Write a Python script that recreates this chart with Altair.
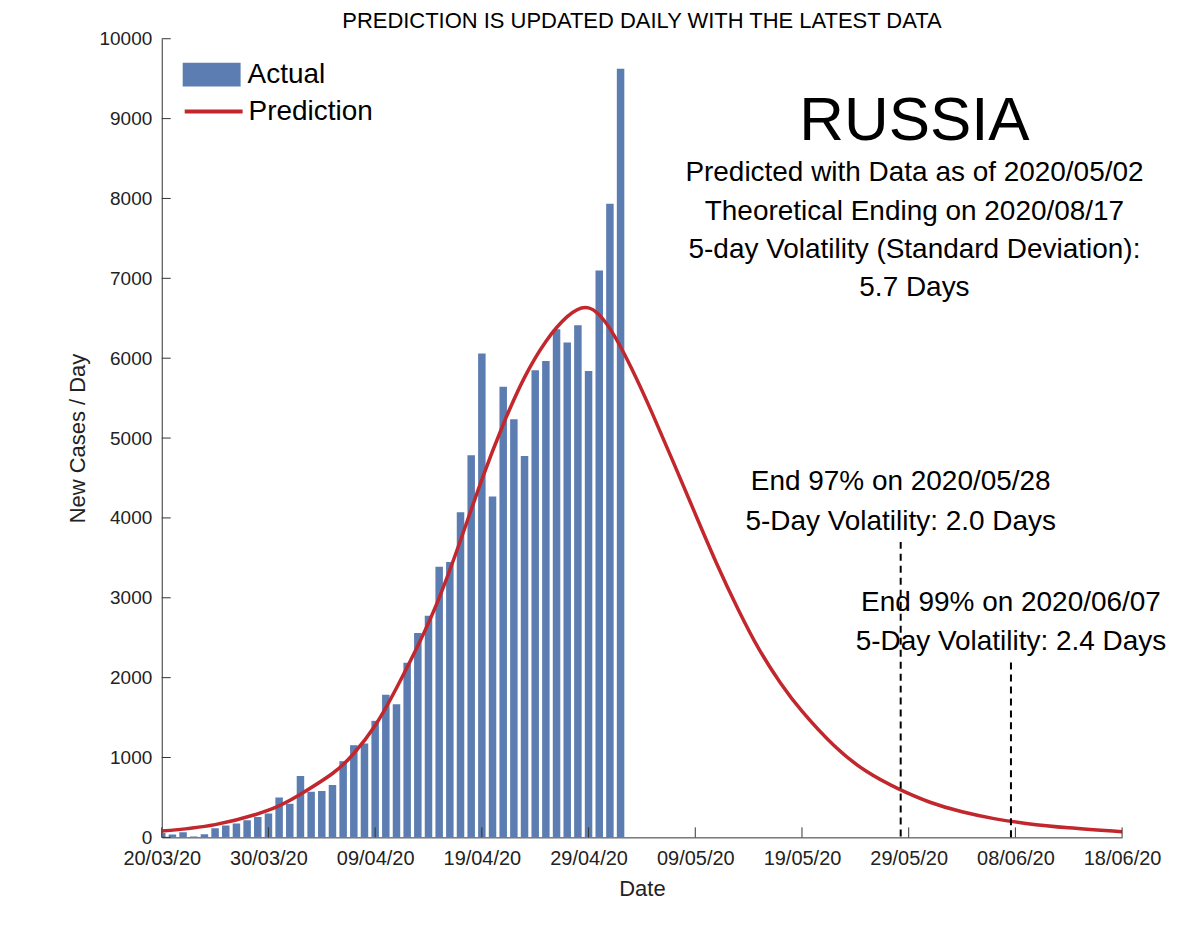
import altair as alt
import pandas as pd

FONT = "Liberation Sans"

# ---------------- data ----------------
start = pd.Timestamp("2020-03-20")
actual_cases = [55, 35, 65, 10, 40, 115, 150, 175, 215, 255, 300, 500,
                420, 770, 570, 580, 655, 954, 1154, 1175, 1459, 1786,
                1667, 2186, 2558, 2774, 3388, 3448, 4070, 4785, 6060, 4268,
                5642, 5236, 4774, 5849, 5966, 6361, 6198, 6411, 5841, 7099,
                7933, 9623]
actual_dates = [(start + pd.Timedelta(days=i)).strftime("%Y-%m-%d") for i in range(len(actual_cases))]

pred_day = [0, 5, 10, 13, 16, 18, 20, 22, 24, 26, 28, 30, 32, 34, 36, 38, 40, 42,
            44, 46, 48, 50, 52, 54, 56, 58, 60, 63, 66, 69, 72, 75, 78, 81, 85, 90]
pred_value = [80, 160, 340, 540, 800, 1050, 1400, 1870, 2400, 3000, 3720, 4480, 5170,
              5760, 6210, 6520, 6630, 6370, 5880, 5300, 4680, 4050, 3430, 2860,
              2350, 1930, 1580, 1150, 830, 610, 440, 320, 235, 175, 120, 70]
pred_dates = [(start + pd.Timedelta(days=d)).strftime("%Y-%m-%d") for d in pred_day]

tick_dates = ["2020-03-20", "2020-03-30", "2020-04-09", "2020-04-19", "2020-04-29",
              "2020-05-09", "2020-05-19", "2020-05-29", "2020-06-08", "2020-06-18"]
y_ticks = [0, 1000, 2000, 3000, 4000, 5000, 6000, 7000, 8000, 9000, 10000]

end_dates = ["2020-05-28T06:00:00Z", "2020-06-07T14:00:00Z"]
end_tops = [3700, 2190]
end_line1 = ["End 97% on 2020/05/28", "End 99% on 2020/06/07"]
end_line2 = ["5-Day Volatility: 2.0 Days", "5-Day Volatility: 2.4 Days"]

title_text = "PREDICTION IS UPDATED DAILY WITH THE LATEST DATA"
info_lines = ["Predicted with Data as of 2020/05/02",
              "Theoretical Ending on 2020/08/17",
              "5-day Volatility (Standard Deviation):",
              "5.7 Days"]

# ---------------- frames ----------------
bars_df = pd.DataFrame({"date": actual_dates, "cases": actual_cases, "series": "Actual"})
pred_df = pd.DataFrame({"date": pred_dates, "value": pred_value, "series": "Prediction"})
xt_df = pd.DataFrame({"date": tick_dates})
yt_df = pd.DataFrame({"v": y_ticks})
end_df = pd.DataFrame({"date": end_dates, "top": end_tops, "zero": [0, 0],
                       "l1": end_line1, "l2": end_line2})


def dt(s):
    y, m, d = [int(p) for p in s.split("-")]
    return alt.DateTime(year=y, month=m, date=d, utc=True)


xscale = alt.Scale(type="utc", domain=[dt("2020-03-20"), dt("2020-06-18")], padding=0)
yscale = alt.Scale(domain=[0, 10000], nice=False, padding=0)

xaxis = alt.Axis(values=[dt(s) for s in tick_dates], format="%d/%m/%y",
                 labelPadding=11, titlePadding=10, labelFlush=False,
                 labelOverlap=False, title="Date")
yaxis = alt.Axis(values=y_ticks, format="d", labelPadding=10, titlePadding=10,
                 title="New Cases / Day")

BLUE = "#5b7db1"
RED = "#c1272d"

X = alt.X("date:T", scale=xscale, axis=xaxis)

bars = alt.Chart(bars_df).mark_bar(size=7.5, clip=True).encode(
    x=X,
    y=alt.Y("cases:Q", scale=yscale, axis=yaxis),
    fill=alt.Fill("series:N",
                  scale=alt.Scale(domain=["Actual"], range=[BLUE]),
                  legend=alt.Legend(title=None, orient="none", legendX=21, legendY=7,
                                    padding=0, symbolType="M-1,-0.41H1V0.41H-1Z",
                                    symbolSize=3364, symbolOpacity=1,
                                    symbolStrokeWidth=0, labelFontSize=28,
                                    labelFont=FONT, labelColor="#000",
                                    labelOffset=7)),
)

line = alt.Chart(pred_df).mark_line(strokeWidth=3.5, interpolate="natural", clip=True).encode(
    x=X,
    y=alt.Y("value:Q", scale=yscale, axis=yaxis),
    stroke=alt.Stroke("series:N",
                      scale=alt.Scale(domain=["Prediction"], range=[RED]),
                      legend=alt.Legend(title=None, orient="none", legendX=21, legendY=42,
                                        padding=0, symbolType="stroke",
                                        symbolSize=3364, symbolStrokeWidth=4,
                                        labelFontSize=28, labelFont=FONT,
                                        labelColor="#000", labelOffset=4)),
)

xticks = alt.Chart(xt_df).mark_rule(color="#333", strokeWidth=1).encode(
    x=X, y=alt.value(800), y2=alt.value(790),
)

yticks = alt.Chart(yt_df).mark_rule(color="#333", strokeWidth=1).encode(
    y=alt.Y("v:Q", scale=yscale, axis=yaxis),
    x=alt.value(0), x2=alt.value(9),
)

end_rules = alt.Chart(end_df).mark_rule(color="#000", strokeWidth=2, strokeDash=[7, 5]).encode(
    x=X,
    y=alt.Y("top:Q", scale=yscale, axis=yaxis),
    y2="zero:Q",
)

# vertical positions of the annotation rows (pixels from the top of the plot)
end_y1 = [452, 573]
end_y2 = [492, 612]

end_layers = []
for i in range(2):
    sub = end_df.iloc[[i]]
    end_layers.append(alt.Chart(sub).mark_text(fontSize=28, font=FONT, color="#000",
                                               align="center", baseline="alphabetic").encode(
        x=X, y=alt.value(end_y1[i]), text="l1:N"))
    end_layers.append(alt.Chart(sub).mark_text(fontSize=28, font=FONT, color="#000",
                                               align="center", baseline="alphabetic").encode(
        x=X, y=alt.value(end_y2[i]), text="l2:N"))

title = alt.Chart(pd.DataFrame({"t": [title_text]})).mark_text(
    fontSize=22, font=FONT, color="#000", align="center", baseline="alphabetic").encode(
    x=alt.value(481), y=alt.value(-11), text="t:N")

russia = alt.Chart(pd.DataFrame({"t": ["RUSSIA"]})).mark_text(
    fontSize=62, font=FONT, color="#000", align="center", baseline="alphabetic").encode(
    x=alt.value(754), y=alt.value(101), text="t:N")

info_y = [143, 182, 220, 258]
info_layers = []
for i, t in enumerate(info_lines):
    info_layers.append(alt.Chart(pd.DataFrame({"t": [t]})).mark_text(
        fontSize=28, font=FONT, color="#000", align="center", baseline="alphabetic").encode(
        x=alt.value(754), y=alt.value(info_y[i]), text="t:N"))

chart = alt.layer(bars, line, xticks, yticks, end_rules, *end_layers, title, russia,
                  *info_layers).resolve_legend(
    fill="independent", stroke="independent"
).properties(
    width=962, height=800,
    padding={"left": 154, "top": 30, "right": 60, "bottom": 95},
    autosize=alt.AutoSizeParams(type="none"),
).configure_view(stroke=None).configure_axis(
    grid=False, ticks=False, domainColor="#333", domainWidth=1,
    labelColor="#222", titleColor="#222", labelFont=FONT, titleFont=FONT,
    labelFontSize=19, titleFontSize=22, titleFontWeight="normal",
).configure_axisX(labelFontSize=20)

chart.save("out.html", embed_options={"renderer": "svg", "actions": False})
